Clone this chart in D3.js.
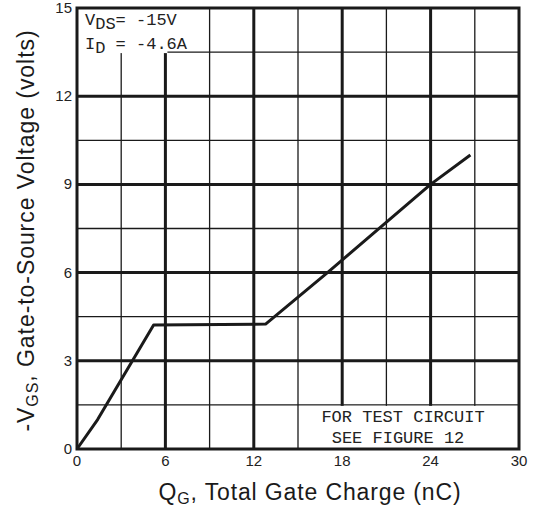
<!DOCTYPE html>
<html>
<head>
<meta charset="utf-8">
<script src="https://cdn.jsdelivr.net/npm/d3@7"></script>
<style>
  body { margin: 0; background: #fff; }
  svg { display: block; }
  .tick-label { font-family: "Liberation Sans", Arial, sans-serif; font-size: 15px; fill: #222; }
  .title { font-family: "Liberation Sans", Arial, sans-serif; font-size: 23px; fill: #1a1a1a; }
  .note { font-family: "Liberation Mono", "DejaVu Sans Mono", monospace; font-size: 17px; fill: #222; }
</style>
</head>
<body>
<div class="gate-chart"></div>
<script>
// gate charge curve
var qg  = [0, 1.4, 5.2, 12.8, 17.0, 24.0, 26.7];
var vgs = [0, 1.0, 4.22, 4.25, 6.0, 9.0, 10.0];

var xTicks = [0, 6, 12, 18, 24, 30];
var yTicks = [0, 3, 6, 9, 12, 15];
var xMinor = [3, 9, 15, 21, 27];
var yMinor = [1.5, 4.5, 7.5, 10.5, 13.5];

var noteTop = [["V", "DS", "= -15V"], ["I", "D", " = -4.6A"]];
var noteBottom = ["FOR TEST CIRCUIT", "SEE FIGURE 12"];

var width = 535, height = 510;
var x = d3.scaleLinear().domain([0, 30]).range([77, 519]);
var y = d3.scaleLinear().domain([0, 15]).range([449, 8]);
var ink = "#1a1a1a";

var svg = d3.select(".gate-chart").append("svg")
    .attr("width", width).attr("height", height);

var grid = svg.append("g").attr("class", "grid");

// thin lines
grid.selectAll(".vMinor").data(xMinor).enter().append("line")
    .attr("x1", function(d){ return x(d); }).attr("x2", function(d){ return x(d); })
    .attr("y1", y(0)).attr("y2", y(15))
    .attr("stroke", ink).attr("stroke-width", 1.3);
grid.selectAll(".hMinor").data(yMinor).enter().append("line")
    .attr("x1", x(0)).attr("x2", x(30))
    .attr("y1", function(d){ return y(d); }).attr("y2", function(d){ return y(d); })
    .attr("stroke", ink).attr("stroke-width", 1.3);

// thick lines
grid.selectAll(".vMajor").data(xTicks.slice(1, -1)).enter().append("line")
    .attr("x1", function(d){ return x(d); }).attr("x2", function(d){ return x(d); })
    .attr("y1", y(0)).attr("y2", y(15))
    .attr("stroke", ink).attr("stroke-width", 3);
grid.selectAll(".hMajor").data(yTicks.slice(1, -1)).enter().append("line")
    .attr("x1", x(0)).attr("x2", x(30))
    .attr("y1", function(d){ return y(d); }).attr("y2", function(d){ return y(d); })
    .attr("stroke", ink).attr("stroke-width", 3);

// blank boxes behind the notes
svg.append("rect")
    .attr("x", x(0)).attr("y", y(15))
    .attr("width", x(6) - x(0) + 2).attr("height", y(13.5) - y(15) + 1)
    .attr("fill", "#fff");
svg.append("rect")
    .attr("x", x(15) + 1).attr("y", y(1.5) + 1)
    .attr("width", x(30) - x(15) - 1).attr("height", y(0) - y(1.5) - 1)
    .attr("fill", "#fff");

// frame
svg.append("rect")
    .attr("x", x(0)).attr("y", y(15))
    .attr("width", x(30) - x(0)).attr("height", y(0) - y(15))
    .attr("fill", "none").attr("stroke", ink).attr("stroke-width", 3);

// curve
var line = d3.line()
    .x(function(d){ return x(d[0]); })
    .y(function(d){ return y(d[1]); });
svg.append("path")
    .datum(d3.zip(qg, vgs))
    .attr("d", line)
    .attr("fill", "none").attr("stroke", ink)
    .attr("stroke-width", 3).attr("stroke-linejoin", "round");

// tick labels
svg.selectAll(".xlab").data(xTicks).enter().append("text")
    .attr("class", "tick-label")
    .attr("x", function(d){ return x(d); }).attr("y", 466)
    .attr("text-anchor", "middle")
    .text(function(d){ return d; });
svg.selectAll(".ylab").data(yTicks).enter().append("text")
    .attr("class", "tick-label")
    .attr("x", 72).attr("y", function(d){ return y(d) + 5; })
    .attr("text-anchor", "end")
    .text(function(d){ return d; });

// stretch a title to the width it has in the original
function spread(t, target) {
  var len = t.node().getComputedTextLength();
  var n = t.text().length;
  t.style("letter-spacing", ((target - len) / n) + "px");
}

// axis titles
var xt = svg.append("text").attr("class", "title")
    .attr("x", (x(0) + x(30)) / 2 + 12).attr("y", 500)
    .attr("text-anchor", "middle");
xt.append("tspan").text("Q");
xt.append("tspan").attr("font-size", "16px").attr("dy", 4).text("G");
xt.append("tspan").attr("dy", -4).text(", Total Gate Charge (nC)");
spread(xt, 303);

var yt = svg.append("text").attr("class", "title")
    .attr("text-anchor", "middle")
    .attr("transform", "translate(34," + ((y(0) + y(15)) / 2 + 2) + ") rotate(-90)");
yt.append("tspan").text("-V");
yt.append("tspan").attr("font-size", "16px").attr("dy", 4).text("GS");
yt.append("tspan").attr("dy", -4).text(", Gate-to-Source Voltage (volts)");
spread(yt, 402);

// notes
noteTop.forEach(function(n, i){
  var t = svg.append("text").attr("class", "note")
      .attr("x", 85).attr("y", 25 + i * 24);
  t.append("tspan").text(n[0]);
  t.append("tspan").attr("dy", 4).text(n[1]);
  t.append("tspan").attr("dy", -4).style("white-space", "pre").text(n[2]);
});
svg.selectAll(".noteB").data(noteBottom).enter().append("text")
    .attr("class", "note")
    .attr("x", function(d, i){ return i === 0 ? 403 : 398; })
    .attr("y", function(d, i){ return 422 + i * 21; })
    .attr("text-anchor", "middle")
    .text(function(d){ return d; });
</script>
</body>
</html>
